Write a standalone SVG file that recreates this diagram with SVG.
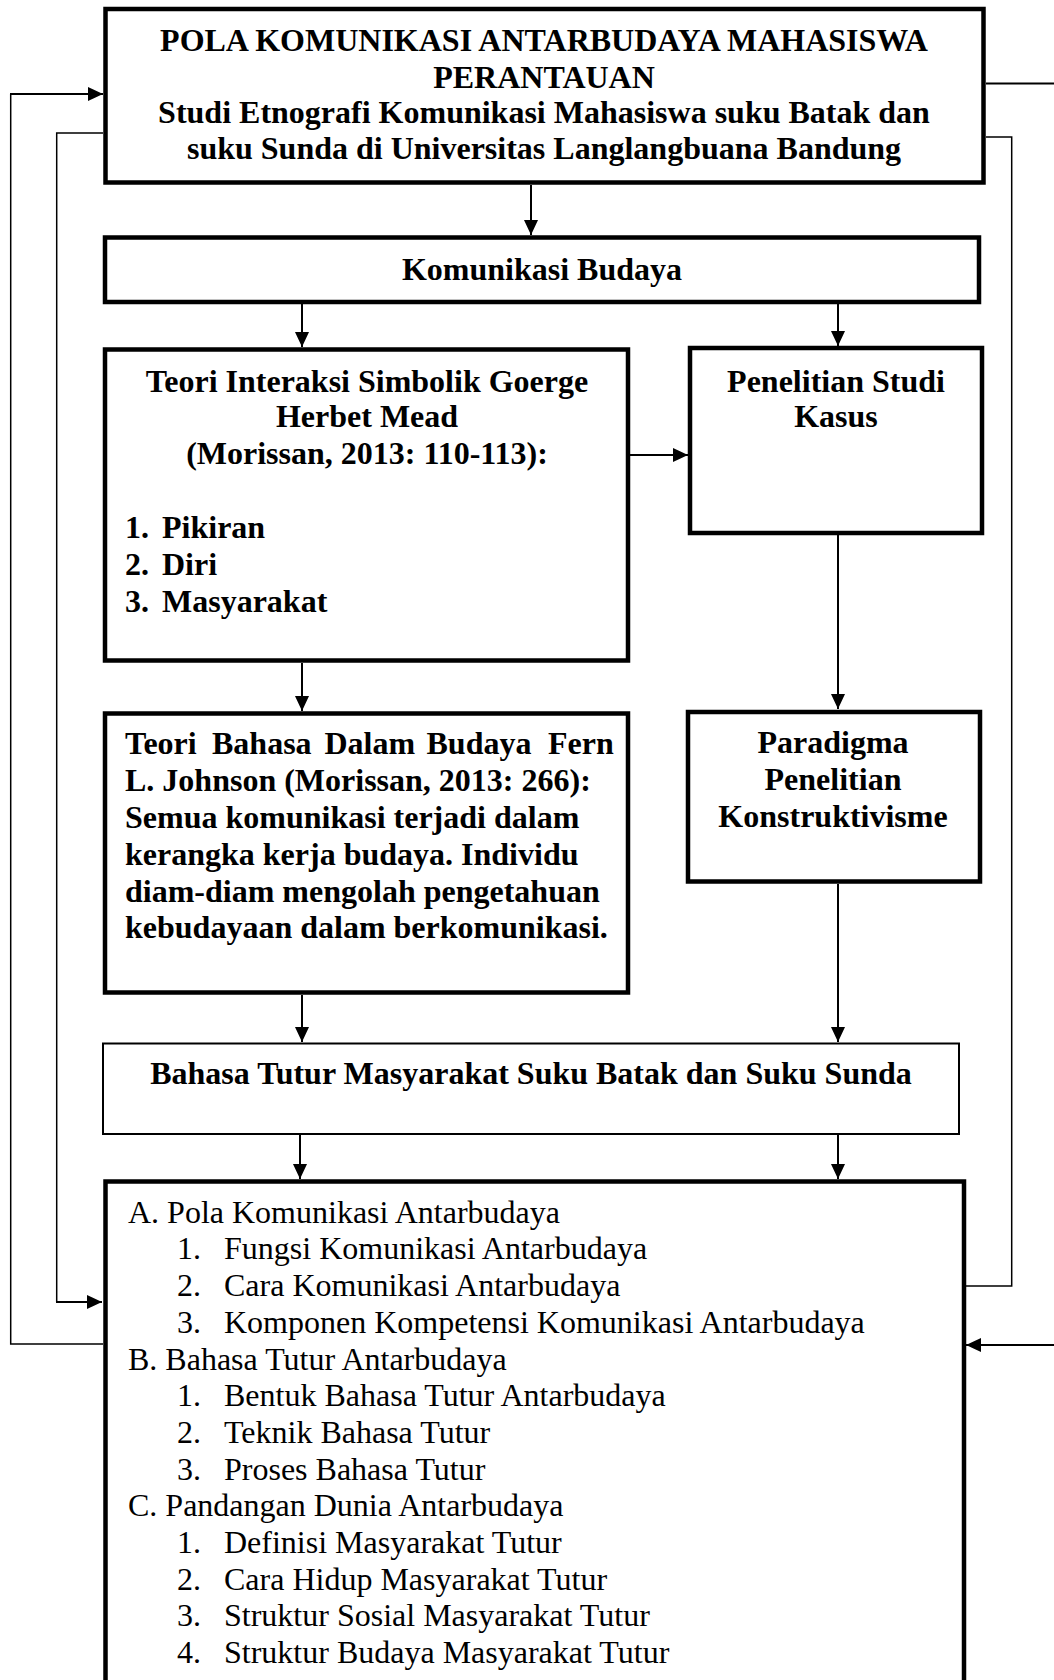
<svg xmlns="http://www.w3.org/2000/svg" width="1054" height="1680" viewBox="0 0 1054 1680">
<style>
  text { font-family: "Liberation Serif", "Times New Roman", serif; font-size: 32px; fill: #000; }
  .b { font-weight: bold; }
  .c { text-anchor: middle; }
  .box { fill: #fff; stroke: #000; stroke-width: 4.5; }
  .thin { fill: #fff; stroke: #000; stroke-width: 2; }
  .con { fill: none; stroke: #000; stroke-width: 2; }
  .loop { fill: none; stroke: #000; stroke-width: 1.5; }
</style>
<defs>
  <marker id="ah" markerWidth="15" markerHeight="14" refX="15" refY="7" orient="auto" markerUnits="userSpaceOnUse">
    <path d="M0,0 L15,7 L0,14 z" fill="#000"/>
  </marker>
</defs>
<rect width="1054" height="1680" fill="#fff"/>

<g id="connectors">
  <line class="con" x1="531" y1="185" x2="531" y2="235" marker-end="url(#ah)"/>
  <line class="con" x1="302" y1="304" x2="302" y2="347" marker-end="url(#ah)"/>
  <line class="con" x1="838" y1="304" x2="838" y2="346" marker-end="url(#ah)"/>
  <line class="con" x1="630" y1="455" x2="688" y2="455" marker-end="url(#ah)"/>
  <line class="con" x1="302" y1="663" x2="302" y2="711" marker-end="url(#ah)"/>
  <line class="con" x1="838" y1="535" x2="838" y2="709" marker-end="url(#ah)"/>
  <line class="con" x1="302" y1="995" x2="302" y2="1042" marker-end="url(#ah)"/>
  <line class="con" x1="838" y1="884" x2="838" y2="1042" marker-end="url(#ah)"/>
  <line class="con" x1="300" y1="1135" x2="300" y2="1179" marker-end="url(#ah)"/>
  <line class="con" x1="838" y1="1135" x2="838" y2="1179" marker-end="url(#ah)"/>
  <polyline class="loop" points="103,1344 10.7,1344 10.7,94"/>
  <line class="con" x1="10" y1="94" x2="103" y2="94" marker-end="url(#ah)"/>
  <polyline class="loop" points="103,133 56.7,133 56.7,1302"/>
  <line class="con" x1="56" y1="1302" x2="102" y2="1302" marker-end="url(#ah)"/>
  <polyline class="loop" points="966,1286 1011.7,1286 1011.7,137 986,137"/>
  <line class="con" x1="986" y1="83.5" x2="1054" y2="83.5"/>
  <line class="con" x1="1054" y1="1345" x2="966" y2="1345" marker-end="url(#ah)"/>
</g>

<g id="node-judul">
  <rect class="box" x="105.5" y="9" width="878" height="173.5"/>
  <text class="b c" x="544" y="51">POLA KOMUNIKASI ANTARBUDAYA MAHASISWA</text>
  <text class="b c" x="544" y="87.5">PERANTAUAN</text>
  <text class="b c" x="544" y="123">Studi Etnografi Komunikasi Mahasiswa suku Batak dan</text>
  <text class="b c" x="544" y="158.5">suku Sunda di Universitas Langlangbuana Bandung</text>
</g>

<g id="node-komunikasi-budaya">
  <rect class="box" x="105" y="237.5" width="874" height="64.5"/>
  <text class="b c" x="542" y="280">Komunikasi Budaya</text>
</g>

<g id="node-teori-interaksi">
  <rect class="box" x="105" y="349.5" width="523" height="311"/>
  <text class="b c" x="367" y="391.7">Teori Interaksi Simbolik Goerge</text>
  <text class="b c" x="367" y="427.3">Herbet Mead</text>
  <text class="b c" x="367" y="464">(Morissan, 2013: 110-113):</text>
  <text class="b" x="125" y="538.3">1.</text><text class="b" x="162" y="538.3">Pikiran</text>
  <text class="b" x="125" y="575">2.</text><text class="b" x="162" y="575">Diri</text>
  <text class="b" x="125" y="611.7">3.</text><text class="b" x="162" y="611.7">Masyarakat</text>
</g>

<g id="node-studi-kasus">
  <rect class="box" x="690" y="348" width="292" height="185"/>
  <text class="b c" x="836" y="391.7">Penelitian Studi</text>
  <text class="b c" x="836" y="427.3">Kasus</text>
</g>

<g id="node-teori-bahasa">
  <rect class="box" x="105" y="713.5" width="523" height="279"/>
  <text class="b" y="754"><tspan x="125">Teori</tspan><tspan x="212">Bahasa</tspan><tspan x="324.5">Dalam</tspan><tspan x="426.5">Budaya</tspan><tspan x="548">Fern</tspan></text>
  <text class="b" x="125" y="790.7">L. Johnson (Morissan, 2013: 266):</text>
  <text class="b" x="125" y="828.3">Semua komunikasi terjadi dalam</text>
  <text class="b" x="125" y="865">kerangka kerja budaya. Individu</text>
  <text class="b" x="125" y="901.7">diam-diam mengolah pengetahuan</text>
  <text class="b" x="125" y="938.3">kebudayaan dalam berkomunikasi.</text>
</g>

<g id="node-paradigma">
  <rect class="box" x="688" y="712" width="292" height="169.5"/>
  <text class="b c" x="833" y="753">Paradigma</text>
  <text class="b c" x="833" y="790">Penelitian</text>
  <text class="b c" x="833" y="827">Konstruktivisme</text>
</g>

<g id="node-bahasa-tutur">
  <rect class="thin" x="103" y="1043.5" width="856" height="90.5"/>
  <text class="b c" x="531" y="1084">Bahasa Tutur Masyarakat Suku Batak dan Suku Sunda</text>
</g>

<g id="node-hasil">
  <rect class="box" x="105.5" y="1181.5" width="858.5" height="560"/>
  <text x="128" y="1222.7">A. Pola Komunikasi Antarbudaya</text>
  <text x="177" y="1259.4">1.</text><text x="224" y="1259.4">Fungsi Komunikasi Antarbudaya</text>
  <text x="177" y="1296.1">2.</text><text x="224" y="1296.1">Cara Komunikasi Antarbudaya</text>
  <text x="177" y="1332.8">3.</text><text x="224" y="1332.8">Komponen Kompetensi Komunikasi Antarbudaya</text>
  <text x="128" y="1369.5">B. Bahasa Tutur Antarbudaya</text>
  <text x="177" y="1406.2">1.</text><text x="224" y="1406.2">Bentuk Bahasa Tutur Antarbudaya</text>
  <text x="177" y="1442.9">2.</text><text x="224" y="1442.9">Teknik Bahasa Tutur</text>
  <text x="177" y="1479.6">3.</text><text x="224" y="1479.6">Proses Bahasa Tutur</text>
  <text x="128" y="1516.3">C. Pandangan Dunia Antarbudaya</text>
  <text x="177" y="1553">1.</text><text x="224" y="1553">Definisi Masyarakat Tutur</text>
  <text x="177" y="1589.7">2.</text><text x="224" y="1589.7">Cara Hidup Masyarakat Tutur</text>
  <text x="177" y="1626.4">3.</text><text x="224" y="1626.4">Struktur Sosial Masyarakat Tutur</text>
  <text x="177" y="1663.1">4.</text><text x="224" y="1663.1">Struktur Budaya Masyarakat Tutur</text>
</g>
</svg>
